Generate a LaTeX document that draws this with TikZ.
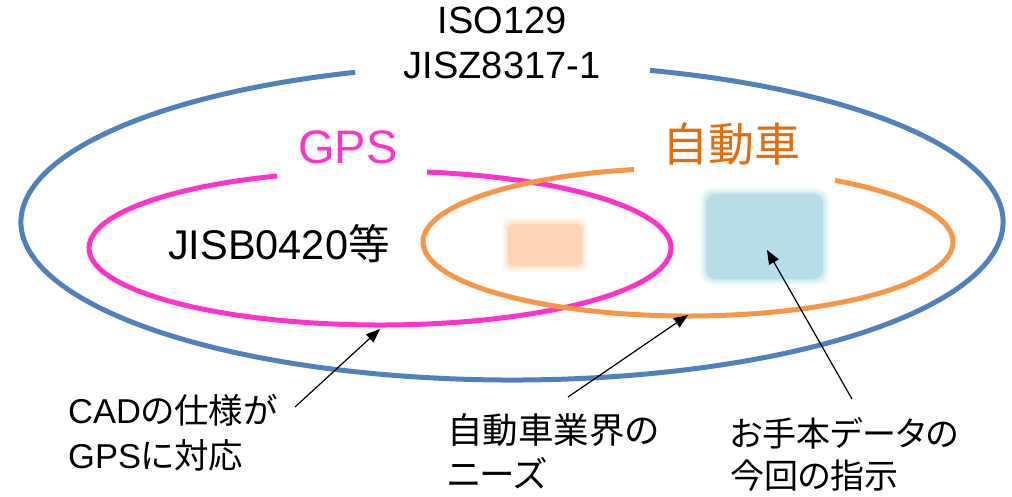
\documentclass[tikz,border=0pt]{standalone}
\usepackage{fontspec}
\setmainfont{Liberation Sans}
\newfontfamily\jp[RawFeature=+palt]{Noto Sans CJK JP}
\usetikzlibrary{arrows.meta}
\definecolor{cblue}{HTML}{4F81BD}
\definecolor{cmag}{HTML}{FF33CC}
\definecolor{corange}{HTML}{F79646}
\definecolor{ctext}{HTML}{E46C0A}
\definecolor{cpeach}{HTML}{FBD5B5}
\definecolor{cteal}{HTML}{B7DDE8}
\tikzset{
  ring/.style={line width=5pt},
  lbl/.style={inner sep=0pt, align=left},
  pointer/.style={line width=1.2pt, -{Triangle[length=14pt,width=11pt]}},
}
\begin{document}
\begin{tikzpicture}[x=1pt,y=-1pt]
\useasboundingbox (0,0) rectangle (1012,496);
% blurred boxes
\foreach \d/\o in {6/0.15,4/0.25,2/0.4,0/1}{
  \fill[cpeach,opacity=\o,rounded corners=6pt] (508-\d,224-\d) rectangle (582+\d,266+\d);
  \fill[cteal,opacity=\o,rounded corners=10pt] (706-\d,194-\d) rectangle (823+\d,279+\d);
}
% ellipses with gaps
\draw[ring,cblue] (512,222) ++(-73.67:491 and 158)
  arc[start angle=-73.67, end angle=251.35, x radius=491, y radius=158];
\draw[ring,cmag] (380,248) ++(-80.7:291 and 77)
  arc[start angle=-80.7, end angle=249.3, x radius=291, y radius=77];
\draw[ring,corange] (688,242) ++(-56.3:265 and 74)
  arc[start angle=-56.3, end angle=258.24, x radius=265, y radius=74];
% labels
\node[lbl, align=center, anchor=north, font=\fontsize{38}{45}\selectfont] (iso) at (502,7) {ISO129\\JISZ8317-1};
\node[lbl, anchor=base west, text=cmag, font=\fontsize{47}{56}\selectfont] (gps) at (298,163) {GPS};
\node[lbl, anchor=north, text=ctext, font=\jp\fontsize{46}{54}\selectfont] (car) at (731,123) {自動車};
\node[lbl, anchor=base west, font=\fontsize{41.5}{50}\selectfont] (jisb) at (168,259) {JISB0420{\jp 等}};
\node[lbl, anchor=north west, font=\fontsize{34.5}{45}\selectfont] (cad) at (68,394) {CAD{\jp の仕様が}\\GPS{\jp に対応}};
\node[lbl, anchor=north west, font=\jp\fontsize{35.5}{44}\selectfont] (need) at (447,413) {自動車業界の\\ニーズ};
\node[lbl, anchor=north west, font=\jp\fontsize{34}{42}\selectfont] (inst) at (730,417) {お手本データの\\今回の指示};
% arrows
\coordinate (a1s) at (295,407);
\coordinate (a1e) at (380,329);
\coordinate (a2s) at (568,397);
\coordinate (a2e) at (688,315);
\coordinate (a3s) at (852,399);
\coordinate (a3e) at (767,250);
\draw[pointer] (a1s) -- (a1e);
\draw[pointer] (a2s) -- (a2e);
\draw[pointer] (a3s) -- (a3e);
\end{tikzpicture}
\end{document}
